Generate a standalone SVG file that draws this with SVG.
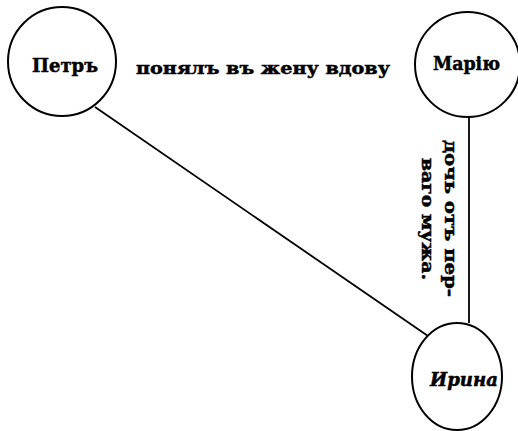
<svg xmlns="http://www.w3.org/2000/svg" width="518" height="431" viewBox="0 0 518 431">
<style>
.node{fill:none;stroke:#000;stroke-width:2}
.edge{stroke:#000;stroke-width:1.8;fill:none}
.t{font-family:"DejaVu Serif","Liberation Serif",serif;font-weight:bold;fill:#000;stroke:#000;stroke-width:0.5}
.n{font-size:19px}
.l{font-size:17px}
</style>
<rect width="518" height="431" fill="#fff"/>
<g id="connectors">
<line class="edge" x1="95" y1="107" x2="428" y2="336"/>
<line class="edge" x1="469" y1="117" x2="469" y2="323"/>
</g>
<g id="petr">
<ellipse class="node" cx="62" cy="61.5" rx="54" ry="54.5"/>
<text class="t n" x="32" y="72" textLength="66" lengthAdjust="spacingAndGlyphs">Петръ</text>
</g>
<g id="mariyu">
<ellipse class="node" cx="467.5" cy="64.5" rx="52.5" ry="52.5"/>
<text class="t n" x="433" y="70" textLength="67" lengthAdjust="spacingAndGlyphs">Марію</text>
</g>
<g id="irina">
<ellipse class="node" cx="457" cy="376.5" rx="45" ry="53.5"/>
<text class="t n" x="430" y="386" font-style="italic" textLength="68" lengthAdjust="spacingAndGlyphs">Ирина</text>
</g>
<g id="labels">
<text class="t l" x="136" y="74" textLength="254" lengthAdjust="spacingAndGlyphs">понялъ въ жену вдову</text>
<text class="t l" transform="translate(445,140) rotate(90)" textLength="157" lengthAdjust="spacingAndGlyphs">дочь отъ пер-</text>
<text class="t l" transform="translate(422,158) rotate(90)" textLength="122" lengthAdjust="spacingAndGlyphs">ваго мужа.</text>
</g>
</svg>
